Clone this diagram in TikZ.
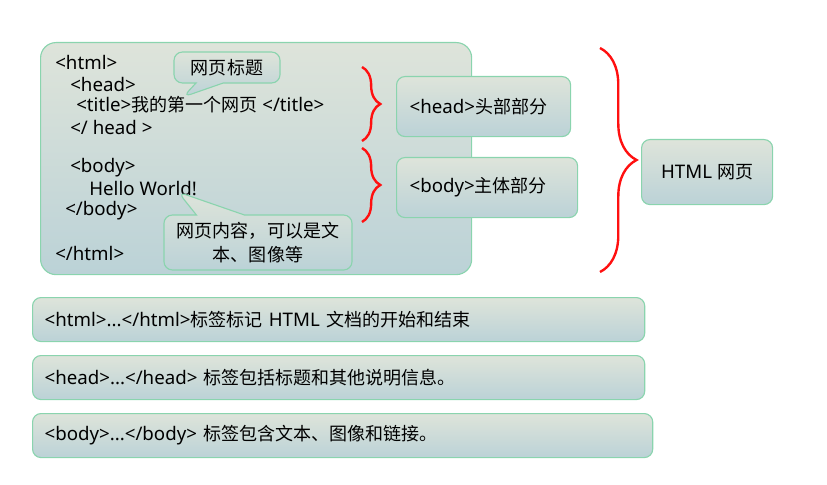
\documentclass[tikz,border=0pt]{standalone}
\usepackage{fontspec}
\setmainfont{Noto Sans}[Scale=1.09]
\newfontfamily\cjk{Noto Sans CJK SC}[Scale=1.05]
\usetikzlibrary{shapes.callouts,decorations.pathreplacing}
\definecolor{HPTop}{HTML}{DEE4DA}
\definecolor{HPBottom}{HTML}{BBD2D7}
\definecolor{HPLine}{HTML}{8AD4AE}
\definecolor{HPRed}{HTML}{FF1010}
\tikzset{
  panel/.style={draw=HPLine,line width=0.8pt,rounded corners=6pt,top color=HPTop,bottom color=HPBottom,inner ysep=0pt},
  codeline/.style={anchor=west,inner sep=0pt},
  note/.style={panel,rectangle callout,align=center},
  curly/.style={draw=HPRed,line width=1.7pt,decorate,decoration={brace,amplitude=#1}}
}

\begin{document}
\begin{tikzpicture}[x=0.025cm,y=-0.025cm,font=\fontsize{12.2pt}{17pt}\selectfont]
\path[use as bounding box] (0,0) rectangle (827,485);
% code panel
\node[panel,rounded corners=11pt,anchor=north west,minimum width=10.775cm,minimum height=5.8cm] (page) at (40,42) {};
\node[codeline] (l1) at (55,62) {<html>};
\node[codeline] (l2) at (70,84) {<head>};
\node[codeline] (l3) at (76,105) {<title>{\cjk 我的第一个网页} </title>};
\node[codeline] (l4) at (70,127) {</ head >};
\node[codeline] (l5) at (70,168) {<body>};
\node[codeline] (l6) at (89,189) {Hello World!};
\node[codeline] (l7) at (65,211) {</body>};
\node[codeline] (l8) at (55,253) {</html>};
\node[note,callout absolute pointer={(183,97)},callout pointer width=0.68cm,minimum width=2.65cm,minimum height=0.775cm] (titlenote) at (227,67.5) {\cjk 网页标题};
\node[note,callout absolute pointer={(178,192)},callout pointer width=1.2cm,minimum width=4.7cm,minimum height=1.375cm] (bodynote) at (258,242.5) {\cjk 网页内容，可以是文\\\cjk 本、图像等};
% parts
\node[panel,anchor=north west,text width=3.7cm,inner xsep=0.325cm,minimum height=1.5cm,align=left] (headpart) at (396,76) {<head>{\cjk 头部部分}};
\node[panel,anchor=north west,text width=3.875cm,inner xsep=0.325cm,minimum height=1.5cm,align=left] (bodypart) at (396,157) {<body>{\cjk 主体部分}};
\node[panel,anchor=north west,minimum width=3.275cm,minimum height=1.625cm] (whole) at (641,139) {HTML {\cjk 网页}};
\coordinate (headtop) at (362,67);
\coordinate (headend) at (362,141);
\coordinate (bodytop) at (362,148);
\coordinate (bodyend) at (362,222);
\coordinate (alltop) at (600,48);
\coordinate (allend) at (600,272);
\draw[curly=13pt] (headtop) -- (headend);
\draw[curly=13pt] (bodytop) -- (bodyend);
\draw[curly=26pt] (alltop) -- (allend);
% notes below
\node[panel,anchor=north west,text width=14.7cm,inner xsep=0.3cm,minimum height=1.1cm,align=left] (rowhtml) at (32,297) {<html>...</html>{\cjk 标签标记} HTML {\cjk 文档的开始和结束}};
\node[panel,anchor=north west,text width=14.7cm,inner xsep=0.3cm,minimum height=1.1cm,align=left] (rowhead) at (32,355) {<head>...</head> {\cjk 标签包括标题和其他说明信息。}};
\node[panel,anchor=north west,text width=14.9cm,inner xsep=0.3cm,minimum height=1.1cm,align=left] (rowbody) at (32,413) {<body>...</body> {\cjk 标签包含文本、图像和链接。}};
\end{tikzpicture}
\end{document}
